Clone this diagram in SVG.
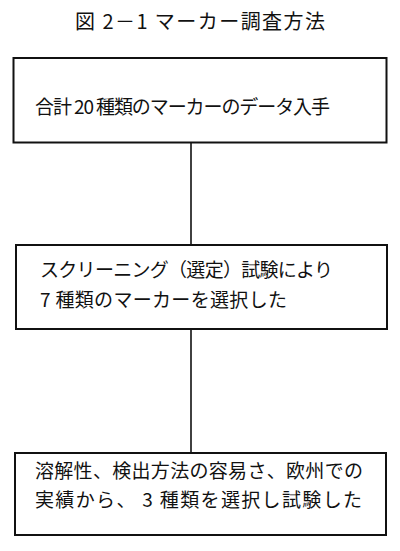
<svg xmlns="http://www.w3.org/2000/svg" width="400" height="551" viewBox="0 0 400 551">
  <style>
    .box { fill: #ffffff; stroke: #111111; stroke-width: 2; }
    .conn { stroke: #111111; stroke-width: 1.6; fill: none; }
    text { font-family: "Noto Sans CJK JP", "Noto Sans", sans-serif; fill: #111111; font-weight: 400; }
    .t { font-size: 19px; }
    .title { font-size: 20px; }
  </style>
  <rect width="400" height="551" fill="#ffffff"/>
  <g id="title">
    <text class="title" x="75" y="29" textLength="250" lengthAdjust="spacing">図 2－1 マーカー調査方法</text>
  </g>
  <g id="connectors">
    <line class="conn" x1="191" y1="142.5" x2="191" y2="245"/>
    <line class="conn" x1="191" y1="329" x2="191" y2="453"/>
  </g>
  <g id="node1">
    <rect class="box" x="13.5" y="58" width="373" height="84.5"/>
    <text class="t" x="35" y="114" textLength="295" lengthAdjust="spacing">合計 20 種類のマーカーのデータ入手</text>
  </g>
  <g id="node2">
    <rect class="box" x="16" y="245" width="371" height="84"/>
    <text class="t" x="40" y="277" textLength="293" lengthAdjust="spacing">スクリーニング（選定）試験により</text>
    <text class="t" x="40" y="307" textLength="247" lengthAdjust="spacing">7 種類のマーカーを選択した</text>
  </g>
  <g id="node3">
    <rect class="box" x="15" y="453" width="371" height="82"/>
    <text class="t" x="35" y="478" textLength="328" lengthAdjust="spacing">溶解性、検出方法の容易さ、欧州での</text>
    <text class="t" x="35" y="507" textLength="327" lengthAdjust="spacing">実績から、 3 種類を選択し試験した</text>
  </g>
</svg>
